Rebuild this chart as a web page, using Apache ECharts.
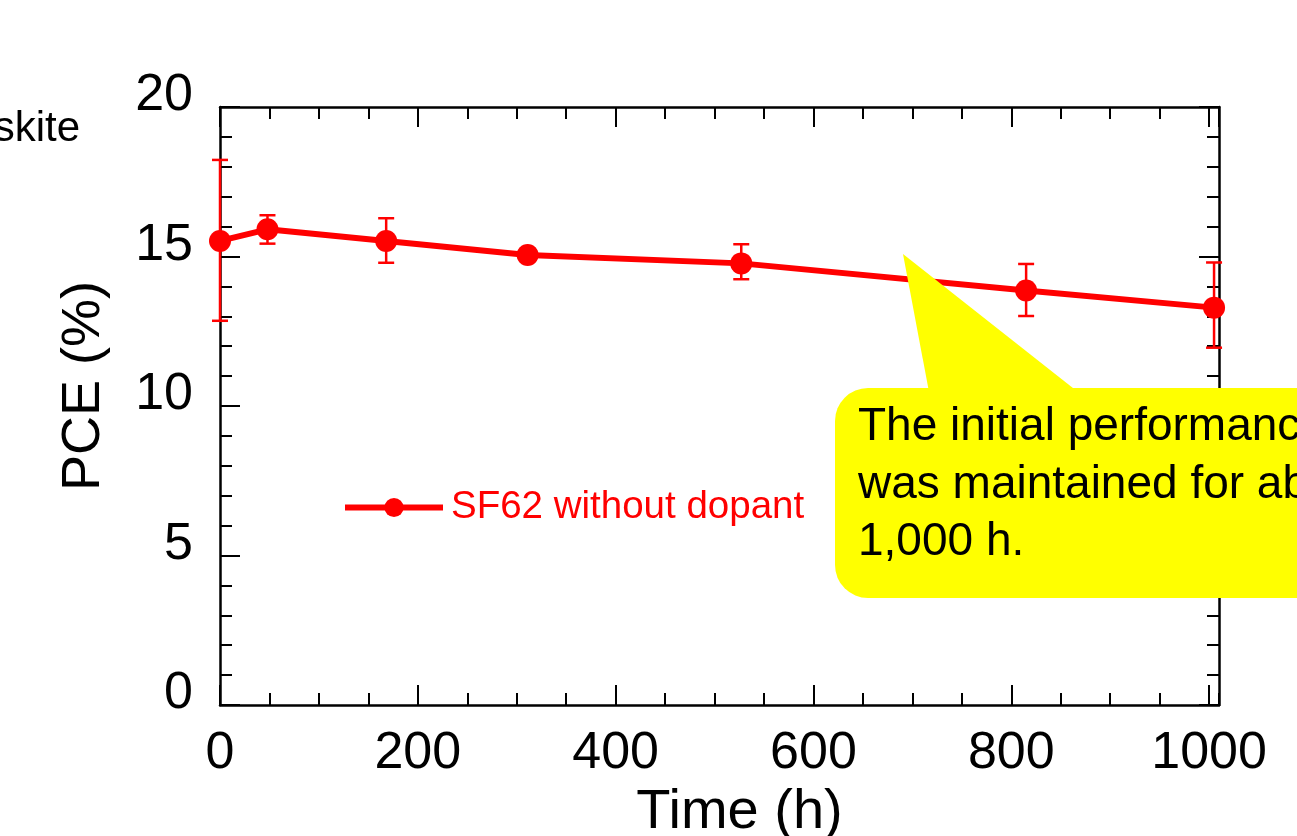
<!DOCTYPE html>
<html>
<head>
<meta charset="utf-8">
<script src="https://cdn.jsdelivr.net/npm/echarts@6/dist/echarts.min.js"></script>
<style>
html,body{margin:0;padding:0;background:#fff;}
#chart{width:1297px;height:836px;}
</style>
</head>
<body>
<div id="chart"></div>
<script>
// ---- data ----
var seriesName = 'SF62 without dopant';
var times = [0, 48, 168, 311, 527, 815, 1005];
var pce = [15.52, 15.91, 15.52, 15.05, 14.77, 13.86, 13.29];
var pceUpper = [18.23, 16.38, 16.28, 15.25, 15.41, 14.75, 14.80];
var pceLower = [12.85, 15.43, 14.79, 14.85, 14.24, 13.01, 11.95];
var xTickLabels = ['0', '200', '400', '600', '800', '1000'];
var yTickLabels = ['0', '5', '10', '15', '20'];
var calloutText = 'The initial performance\nwas maintained for about\n1,000 h.';
var cornerText = 'Perovskite';

var FONT = '"Liberation Sans", Arial, sans-serif';
var RED = '#ff0000';

var lineData = times.map(function (t, i) { return [t, pce[i]]; });
var errData = times.map(function (t, i) { return [t, pceLower[i], pceUpper[i]]; });

var chart = echarts.init(document.getElementById('chart'), null, {renderer: 'canvas'});

function merge(o, extra) { for (var k in extra) o[k] = extra[k]; return o; }
function axLine(show) { return {show: show, onZero: false, lineStyle: {color: '#000', width: 2.5}}; }
function axTick(len) { return {show: true, inside: true, length: len, lineStyle: {color: '#000', width: 2}}; }

function baseX(extra) {
  return merge({
    type: 'value', min: 0, max: 1010,
    splitLine: {show: false},
    axisLine: axLine(false),
    axisLabel: {show: false},
    axisTick: axTick(12)
  }, extra);
}
function baseY(extra) {
  return merge({
    type: 'value', min: 0, max: 20,
    splitLine: {show: false},
    axisLine: axLine(false),
    axisLabel: {show: false},
    axisTick: axTick(12)
  }, extra);
}

var option = {
  animation: false,
  backgroundColor: '#fff',
  grid: {left: 220, top: 107, right: 78, bottom: 131, containLabel: false, outerBoundsMode: 'none'},
  legend: {
    show: true,
    data: [seriesName],
    left: 342, top: 488,
    padding: 0,
    itemWidth: 98, itemHeight: 24,
    lineStyle: {width: 6, color: RED},
    itemStyle: {color: RED},
    textStyle: {color: RED, fontSize: 38.5, fontFamily: FONT, padding: [0, 0, 0, 3]}
  },
  xAxis: [
    baseX({
      position: 'bottom', interval: 200,
      axisLine: axLine(true), axisTick: axTick(20),
      axisLabel: {
        show: true, color: '#000', fontSize: 52, fontFamily: FONT, margin: 23,
        showMaxLabel: false,
        formatter: function (v) { var i = xTickLabels.indexOf(String(v)); return i >= 0 ? xTickLabels[i] : ''; }
      },
      name: 'Time (h)', nameLocation: 'middle', nameGap: 77,
      nameTextStyle: {color: '#000', fontSize: 56, fontFamily: FONT, padding: [0, 0, 0, 40]}
    }),
    baseX({position: 'bottom', interval: 50}),
    baseX({position: 'top', interval: 200, axisLine: axLine(true), axisTick: axTick(20)}),
    baseX({position: 'top', interval: 50})
  ],
  yAxis: [
    baseY({
      position: 'left', interval: 5,
      axisLine: axLine(true), axisTick: axTick(20),
      axisLabel: {
        show: true, color: '#000', fontSize: 52, fontFamily: FONT, margin: 27,
        verticalAlign: 'bottom', lineHeight: 22,
        formatter: function (v) { var i = yTickLabels.indexOf(String(v)); return i >= 0 ? yTickLabels[i] : ''; }
      },
      name: 'PCE (%)', nameLocation: 'middle', nameGap: 109, nameRotate: 90,
      nameTextStyle: {color: '#000', fontSize: 54, fontFamily: FONT, padding: [0, 0, 0, 40]}
    }),
    baseY({position: 'left', interval: 1}),
    baseY({position: 'right', interval: 5, axisLine: axLine(true), axisTick: axTick(20)}),
    baseY({position: 'right', interval: 1})
  ],
  series: [
    {
      name: seriesName,
      type: 'line',
      xAxisIndex: 0, yAxisIndex: 0,
      data: lineData,
      color: RED,
      symbol: 'circle', symbolSize: 22,
      lineStyle: {color: RED, width: 6},
      itemStyle: {color: RED},
      z: 3
    },
    {
      name: 'error',
      type: 'custom',
      xAxisIndex: 0, yAxisIndex: 0,
      data: errData,
      z: 2,
      renderItem: function (params, api) {
        var x = api.value(0);
        var lo = api.coord([x, api.value(1)]);
        var hi = api.coord([x, api.value(2)]);
        var hw = 8;
        var st = {stroke: RED, lineWidth: 2.5};
        return {
          type: 'group',
          children: [
            {type: 'line', shape: {x1: lo[0], y1: lo[1], x2: hi[0], y2: hi[1]}, style: st},
            {type: 'line', shape: {x1: lo[0] - hw, y1: lo[1], x2: lo[0] + hw, y2: lo[1]}, style: st},
            {type: 'line', shape: {x1: hi[0] - hw, y1: hi[1], x2: hi[0] + hw, y2: hi[1]}, style: st}
          ]
        };
      }
    }
  ],
  graphic: [
    {
      type: 'text', x: 80, y: 129, z: 10,
      style: {text: cornerText, fill: '#000', font: '42px ' + FONT, align: 'right', verticalAlign: 'middle'}
    },
    {type: 'polygon', z: 100, zlevel: 1, shape: {points: [[903, 254], [929, 392], [1078, 392]]}, style: {fill: '#ffff00'}},
    {type: 'rect', z: 100, zlevel: 1, shape: {x: 835, y: 388, width: 600, height: 210, r: 33}, style: {fill: '#ffff00'}},
    {type: 'text', z: 101, zlevel: 1, x: 858, y: 399,
      style: {text: calloutText, fill: '#000', font: '46px ' + FONT, lineHeight: 57.5, align: 'left', verticalAlign: 'top'}}
  ]
};
chart.setOption(option);
</script>
</body>
</html>
